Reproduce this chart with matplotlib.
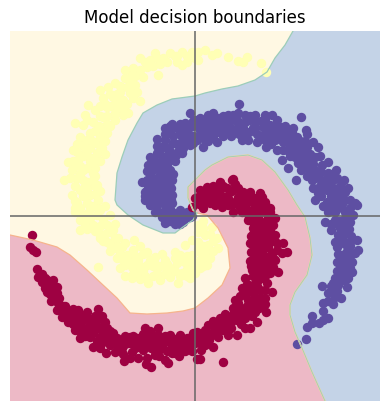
import numpy as np
import matplotlib
matplotlib.use("Agg")
import matplotlib.pyplot as plt

LIM = 185

# class boundaries
blue_yellow_edge = [(98,185),(90,171),(80,158),(72,144),(60,136),(43,130),(27,127),(10,123),(0,120),
    (-23,117),(-38,111),(-52,103),(-58,93),(-67,76),(-73,59),(-78,43),(-80,16),(-78,11),(-67,1),
    (-52,-9),(-32,-17),(-20,-17),(-12,-11),(-2,-4),(2,3)]
blue_red_edge = [(2,3),(-2,6),(-7,18),(-7,29),(2,38),(10,46),(17,51),(33,59),(53,61),(67,56),(80,44),
    (93,26),(102,11),(110,-1),(115,-22),(117,-39),(112,-59),(100,-76),(95,-89),(95,-99),(100,-116),
    (107,-132),(117,-156),(130,-185)]
red_yellow_edge = [(-185,-19),(-162,-24),(-138,-31),(-125,-39),(-108,-54),(-92,-69),(-78,-82),(-65,-97),
    (-48,-98),(-28,-97),(-12,-95),(0,-92),(13,-82),(27,-69),(35,-52),(33,-32),(23,-12),(12,1),(2,3)]

blue_pts = [(102,-128),(111,-123),(112,-111),(117,-107),(117,-100),(124,-107),(128,-104),(133,-102),
    (128,-95),(128,-87),(138,-88),(133,-77),(140,-81),(146,-82),(127,-70),(138,-67),(143,-69),(152,-71),
    (143,-61),(153,-62),(157,-56),(147,-52),(142,-46),(147,-39),(157,-46),(160,-37),(163,-34),(142,-31),
    (148,-24),(157,-24),(162,-24),(143,-19),(154,-13),(136,-14),(130,-6),(140,-4),(150,-2),(158,1),
    (137,9),(147,8),(155,8),(162,11),(160,13),(155,16),(132,14),(140,16),(120,16),(123,23),(132,26),
    (143,23),(153,28),(149,36),(133,33),(117,36),(123,43),(133,43),(141,46),(101,36),(93,48),(87,56),
    (115,44),(115,53),(127,51),(133,54),(103,53),(110,49),(120,59),(100,59),(112,69),(123,69),(118,74),
    (108,69),(95,71),(102,79),(112,82),(111,86),(106,99),(97,83),(92,83),(88,74),(92,66),(82,66),(86,89),
    (82,83),(82,96),(77,101),(70,101),(75,91),(68,89),(77,78),(71,69),(65,78),(60,101),(58,88),(53,76),
    (47,76),(50,101),(43,103),(44,112),(48,88),(40,86),(38,101),(33,101),(30,96),(32,86),(22,74),(23,84),
    (18,103),(13,101),(17,93),(8,69),(12,83),(5,98),(5,86),(2,76),(-5,103),(0,96),(-10,93),(-23,92),
    (-30,88),(-38,77),(-18,88),(-13,79),(-5,81),(-5,71),(-12,68),(-25,83),(-22,73),(-30,76),(-13,63),
    (-33,69),(-27,61),(-45,59),(-38,63),(-32,56),(-25,56),(-19,61),(-47,51),(-40,49),(-32,46),(-25,46),
    (-45,41),(-38,38),(-30,36),(-23,36),(-53,34),(-47,31),(-40,29),(-32,26),(-25,26),(-50,24),(-45,21),
    (-38,19),(-30,18),(-23,21),(-50,16),(-45,11),(-38,11),(-30,11),(-23,13),(-40,4),(-32,3),(-23,4),
    (-15,6),(-27,-2),(-19,-2),(-10,-2),(-20,-8),(-12,-6),(-3,0),(-8,4),
    (-40,55),(-35,62),(-28,68),(-22,80),(-18,72),(-15,82),(-12,75),(-8,86),(-8,76),(-2,90),(-2,80),(-2,73),
    (3,92),(3,80),(8,96),(8,88),(8,78),(13,92),(13,84),(13,75),(18,96),(18,86),(18,78),(23,98),(23,90),
    (28,100),(28,90),(28,80),(34,94),(36,88),(36,80),(42,96),(44,90),(44,82),(50,94),(54,96),(54,84),(60,94),
    (62,82),(62,74),(66,95),(70,92),(70,83),(74,85),(70,76),(76,72),(80,90),(80,76),(84,78),(88,82),(88,66),
    (92,76),(96,76),(96,66),(100,72),(104,68),(104,60),(108,62),(110,56),(106,46),(112,62),(116,60),(118,52),
    (120,46),(108,54),(120,38),(126,44),(126,36),(112,40),(128,28),(138,36),(138,28),(142,38),(126,20),(136,20),
    (148,18),(150,24),(128,10),(143,9),(148,14),(140,4),(150,4),(133,4),(145,-5),(136,-8),(155,-6),(145,-12),
    (150,-17),(150,-28),(155,-30),(145,-25),(152,-35),(148,-45),(155,-40),(152,-50),(145,-56),(150,-56),
    (140,-62),(148,-64),(136,-75),(142,-75),(133,-85),(-42,35),(-35,45),(-28,50),(-35,30),(-28,31),(-42,24),
    (-35,15),(-27,15),(-43,16),(-35,22),(-28,22),(-30,6),(-38,5),(-24,-5),(-15,-8),(-14,2),(-5,-1),(-20,2),
    (-25,7),(-33,-1),(-40,15),(-46,15),
    (-48,45),(-42,46),(-36,52),(-28,42),(-22,42),(-20,55),(-16,66),(-25,65),(-38,70),(-30,82),(-15,92),(-10,86),
    (-25,90),(-2,95),(-48,36),(-37,34),(-30,40),(-26,34),(-24,28),(-42,36),(-48,26),(-50,20),(-24,16),(-26,-5),
    (-30,-7),(115,62),(125,60),(105,75),(110,75),(98,88),(90,90),(70,97),(55,100),(60,88),(50,80),(40,96),(25,95),
    (15,98),(10,92),(130,36),(145,30),(135,42),(112,48),(100,66),(95,60),(125,30),(118,28),(146,12),(155,0),(142,-8),
    (150,-8),(143,-38),(150,-38),(156,-20),(140,-26),(150,-45),(142,-55),(155,-52),(136,-70)]

red_pts = [(-163,-19),(-165,-31),(-162,-34),(-159,-36),(-158,-53),(-153,-58),(-157,-61),(-142,-64),
    (-148,-64),(-153,-66),(-147,-71),(-148,-76),(-138,-71),(-138,-77),(-136,-82),(-144,-85),(-137,-87),
    (-138,-94),(-132,-96),(-133,-101),(-127,-96),(-122,-93),(-117,-94),(-108,-96),(-97,-93),(-127,-106),
    (-120,-102),(-112,-104),(-120,-114),(-115,-122),(-112,-112),(-105,-109),(-98,-104),(-90,-106),
    (-88,-112),(-97,-111),(-102,-117),(-105,-121),(-95,-121),(-82,-117),(-88,-122),(-78,-122),(-102,-131),
    (-95,-132),(-89,-137),(-85,-129),(-80,-136),(-78,-129),(-72,-124),(-65,-121),(-58,-122),(-50,-112),
    (-48,-122),(-37,-112),(-37,-119),(-25,-119),(-15,-119),(-73,-132),(-65,-127),(-63,-136),(-71,-145),
    (-65,-142),(-57,-142),(-55,-131),(-48,-129),(-40,-129),(-48,-142),(-49,-148),(-44,-151),(-40,-139),
    (-32,-132),(-32,-126),(-23,-129),(-30,-144),(-27,-147),(-23,-137),(-16,-140),(-15,-131),(-7,-131),
    (-8,-122),(-2,-117),(0,-127),(2,-143),(5,-143),(28,-146),(3,-126),(10,-129),(18,-131),(23,-121),
    (17,-119),(8,-121),(2,-116),(13,-109),(10,-114),(20,-112),(33,-119),(42,-119),(32,-111),(25,-102),
    (33,-101),(40,-94),(42,-104),(50,-112),(55,-112),(62,-106),(50,-102),(43,-87),(53,-94),(60,-96),
    (71,-96),(70,-88),(62,-87),(53,-84),(58,-77),(47,-72),(50,-62),(65,-74),(77,-76),(72,-67),(63,-64),
    (58,-69),(57,-54),(65,-56),(83,-56),(75,-57),(78,-51),(63,-47),(72,-46),(80,-44),(60,-41),(55,-27),
    (67,-39),(77,-37),(87,-37),(92,-36),(88,-27),(63,-31),(73,-31),(82,-27),(63,-21),(72,-19),(80,-19),
    (58,-12),(68,-11),(78,-9),(53,-4),(63,-2),(73,-1),(80,-2),(47,4),(57,6),(68,6),(75,8),(38,37),(25,33),
    (12,29),(32,28),(43,28),(55,24),(65,23),(67,19),(72,9),(3,19),(15,19),(30,19),(43,19),(55,16),(65,13),
    (7,13),(20,11),(33,11),(45,9),(75,4),(-3,9),(0,18),(5,26),(25,34),(37,36),(15,13),(27,9),(38,4),
    (-150,-62),(-143,-72),(-142,-78),(-135,-90),(-130,-90),(-128,-102),(-122,-99),(-115,-99),(-115,-108),
    (-108,-102),(-122,-108),(-108,-112),(-115,-115),(-108,-116),(-100,-100),(-102,-105),(-93,-100),(-100,-112),
    (-92,-112),(-92,-118),(-98,-125),(-92,-126),(-85,-122),(-85,-115),(-80,-125),(-75,-128),(-68,-126),
    (-72,-138),(-60,-126),(-60,-132),(-62,-120),(-52,-118),(-52,-127),(-52,-134),(-44,-118),(-44,-124),
    (-44,-132),(-36,-125),(-36,-133),(-36,-140),(-30,-120),(-28,-125),(-28,-135),(-20,-123),(-20,-132),
    (-12,-125),(-10,-135),(-5,-125),(-3,-135),(-3,-120),(5,-118),(5,-124),(6,-134),(12,-118),(14,-124),
    (23,-113),(18,-105),(24,-108),(28,-114),(30,-105),(36,-106),(36,-112),(38,-98),(44,-98),(46,-108),
    (46,-92),(52,-90),(57,-88),(57,-100),(64,-92),(66,-82),(60,-82),(54,-72),(62,-70),(70,-74),(58,-60),
    (70,-60),(70,-52),(60,-50),(55,-45),(68,-49),(60,-34),(58,-28),(66,-26),(75,-26),(68,-33),(62,-26),
    (68,-16),(75,-14),(62,-8),(58,-6),(72,-4),(60,2),(65,4),(53,2),(50,10),(60,10),(58,14),(50,20),(38,12),
    (38,26),(48,24),(25,26),(18,26),(12,22),(8,22),(18,14),(26,14),(8,8),(60,18),
    (10,25),(20,22),(25,20),(35,24),(40,32),(28,30),(18,30),(46,14),(40,14),(34,16),(30,12),(22,18),(10,16),(4,12),
    (48,8),(52,14),(70,14),(64,16),(70,4),(58,-4),(66,-6),(72,-8),(58,-18),(65,-14),(75,-20),(68,-22),(60,-14),
    (56,-20),(82,-34),(62,-38),(70,-40),(78,-42),(56,-36),(72,-30),(65,-45),(75,-50),(56,-50),(66,-62),(52,-68),
    (60,-75),(70,-82),(50,-78),(45,-80),(40,-84),(38,-92),(48,-100),(30,-98),(24,-112),(10,-121),(18,-116),(-2,-125),
    (-8,-128),(-15,-125),(-25,-124),(-32,-122),(-40,-122),(-45,-115),(-12,-135),(-20,-137),(-40,-135),(-58,-130),
    (-70,-128),(-62,-125),(-56,-126),(-70,-120),(-95,-113),(-105,-115),(-110,-120),(-125,-100),(-132,-90),(-138,-85),
    (-145,-78),(-143,-66),(-150,-72)]

yellow_pts = [(71,144),(66,153),(52,159),(48,154),(43,155),(33,159),(22,163),(17,161),(10,166),(3,164),
    (3,156),(-3,164),(-13,164),(-25,163),(-40,163),(-45,156),(-32,158),(-18,154),(-13,151),(-28,154),
    (-55,158),(-48,149),(-37,141),(-55,146),(-70,146),(-63,141),(-52,139),(-70,138),(-60,131),(-68,129),
    (-80,133),(-87,129),(-95,126),(-75,124),(-82,119),(-92,118),(-62,118),(-55,115),(-78,109),(-67,103),
    (-80,96),(-72,101),(-107,111),(-88,109),(-100,106),(-110,101),(-120,93),(-92,99),(-102,94),(-112,91),
    (-88,83),(-95,79),(-105,83),(-115,79),(-100,73),(-112,71),(-122,66),(-90,62),(-98,63),(-108,61),
    (-127,54),(-117,56),(-102,53),(-123,46),(-112,46),(-102,43),(-131,36),(-118,38),(-108,34),(-98,31),
    (-123,21),(-115,26),(-105,21),(-97,16),(-118,13),(-108,13),(-95,6),(-120,4),(-107,3),(-115,-14),
    (-120,8),(-112,1),(-98,1),(-85,1),(-88,-9),(-102,-9),(-110,-6),(-97,-16),(-85,-16),(-80,-22),(-95,-22),
    (-88,-26),(-77,-22),(-61,-24),(-80,-32),(-73,-31),(-55,-30),(-68,-39),(-62,-34),(-78,-42),(-97,-51),
    (-70,-49),(-75,-52),(-70,-60),(-63,-51),(-57,-44),(-48,-36),(-40,-41),(-20,-36),(-30,-44),(-48,-49),
    (-58,-57),(-63,-62),(-47,-67),(-55,-63),(-38,-57),(-35,-64),(-25,-61),(-17,-67),(-13,-57),(-10,-46),
    (-18,-47),(-3,-39),(-3,-54),(-15,-39),(-28,-54),(3,-9),(17,-11),(10,-19),(22,-22),(3,-26),(13,-29),
    (23,-32),(5,-36),(15,-42),(3,-47),(12,-49),(0,-57),(-10,-29),(-3,-24),
    (-8,160),(-20,160),(-35,152),(-42,150),(-60,140),(-65,135),(-75,130),(-72,116),(-65,123),(-58,124),
    (-85,122),(-90,112),(-80,112),(-88,100),(-95,110),(-80,103),(-108,96),(-96,90),(-88,92),(-100,85),(-90,75),
    (-108,76),(-118,72),(-105,68),(-93,68),(-112,60),(-102,58),(-95,55),(-122,55),(-115,50),(-108,48),(-100,48),
    (-125,38),(-112,36),(-102,36),(-120,30),(-108,27),(-95,25),(-112,20),(-100,22),(-115,8),(-102,10),(-90,10),
    (-115,-4),(-105,-2),(-92,-3),(-95,-10),(-80,-8),(-108,-13),(-90,-18),(-82,-14),(-85,-28),(-70,-27),(-75,-38),
    (-65,-46),(-60,-40),(-52,-38),(-45,-44),(-62,-58),(-52,-54),(-42,-50),(-35,-50),(-42,-60),(-30,-58),(-20,-55),
    (-28,-48),(-20,-42),(-8,-53),(-8,-40),(-8,-60),(3,-16),(3,-33),(8,-30),(8,-42),(18,-25),(8,-50),(-3,-46),(8,-12),
    (0,158),(-8,154),(-18,160),(-38,158),(-50,154),(-62,148),(-65,128),(-75,115),(-85,110),(-72,108),(-68,112),
    (-78,122),(-95,100),(-85,90),(-92,85),(-103,75),(-95,70),(-110,68),(-118,64),(-120,50),(-105,55),(-100,40),
    (-115,42),(-110,30),(-100,30),(-120,15),(-110,20),(-97,8),(-105,7),(-110,-10),(-100,-15),(-90,-8),(-92,-25),
    (-78,-30),(-85,-35),(-72,-44),(-60,-48),(-55,-50),(-50,-60),(-40,-48),(-33,-38),(-25,-52),(-15,-60),(-5,-62),
    (-30,-50),(-12,-45),(5,-52),(10,-36),(15,-18),(8,-5),(5,-44),(18,-35)]

W, H = 389, 411
fig = plt.figure(figsize=(W / 100, H / 100), dpi=100)
ax = fig.add_axes([10 / W, 10 / H, 370 / W, 370 / H])
ax.set_facecolor("#fff8e3")

blue_region = blue_yellow_edge + blue_red_edge[1:] + [(LIM, -LIM), (LIM, LIM)]
red_region = red_yellow_edge + blue_red_edge[1:] + [(-LIM, -LIM)]

ax.fill(*zip(*red_region), color="#edb9c6", lw=0)
ax.fill(*zip(*blue_region), color="#c4d3e7", lw=0)
ax.plot(*zip(*red_yellow_edge), color="#f6b48c", lw=0.9)
ax.plot(*zip(*blue_red_edge), color="#f3d9a0", lw=1.2)
ax.plot(*zip(*blue_red_edge), color="#9ccdb9", lw=0.6)
ax.plot(*zip(*blue_yellow_edge), color="#9ccdb9", lw=0.9)

ax.scatter(*zip(*yellow_pts), s=46, color="#ffffb5", lw=0)
ax.scatter(*zip(*blue_pts), s=46, color="#5e4fa2", lw=0)
ax.scatter(*zip(*red_pts), s=46, color="#9e0142", lw=0)

ax.axhline(0, color="#666666", lw=1.1)
ax.axvline(0, color="#666666", lw=1.1)

ax.set_xlim(-LIM, LIM)
ax.set_ylim(-LIM, LIM)
ax.set_xticks([])
ax.set_yticks([])
for s in ax.spines.values():
    s.set_visible(False)
ax.set_title("Model decision boundaries", fontsize=12)

fig.savefig("out.png", dpi=100)
